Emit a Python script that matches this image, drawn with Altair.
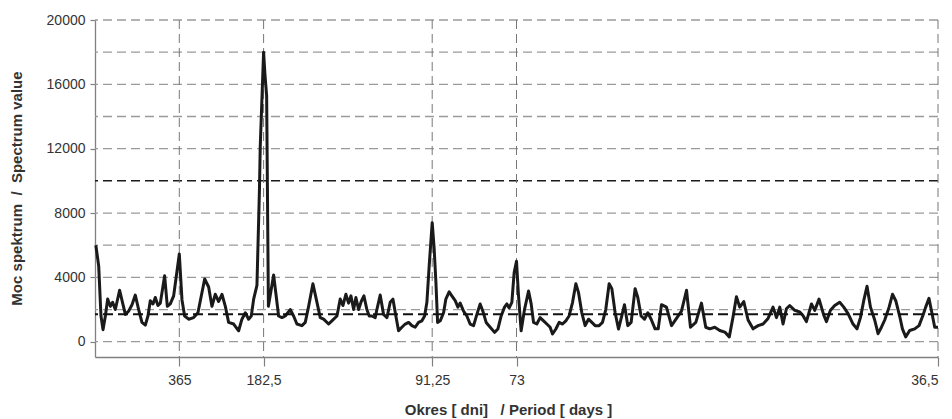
import altair as alt
import pandas as pd

# frequency in cycles per year (period = 365 / f days)
freq = [0.01, 0.044, 0.071, 0.095, 0.123, 0.150, 0.182, 0.209, 0.241, 0.292, 0.328, 0.360, 0.399, 0.439,
        0.478, 0.518, 0.557, 0.597, 0.628, 0.656, 0.688, 0.715, 0.747, 0.775, 0.826, 0.858, 0.893, 0.933,
        1.0, 1.032, 1.063, 1.111, 1.170, 1.221, 1.301, 1.348, 1.387, 1.427, 1.467, 1.506, 1.546, 1.585,
        1.645, 1.704, 1.743, 1.783, 1.822, 1.854, 1.882, 1.921, 1.951, 1.960, 2.0, 2.016, 2.036, 2.057,
        2.119, 2.178, 2.218, 2.257, 2.316, 2.356, 2.395, 2.455, 2.494, 2.534, 2.585, 2.633, 2.672, 2.712,
        2.771, 2.810, 2.870, 2.909, 2.941, 2.976, 3.008, 3.036, 3.068, 3.095, 3.127, 3.158, 3.190, 3.225,
        3.253, 3.285, 3.324, 3.344, 3.383, 3.423, 3.463, 3.502, 3.534, 3.569, 3.601, 3.640, 3.680, 3.720,
        3.759, 3.798, 3.838, 3.878, 3.910, 3.937, 3.964, 4.0, 4.023, 4.044, 4.064, 4.095, 4.135, 4.162,
        4.201, 4.233, 4.273, 4.305, 4.332, 4.372, 4.411, 4.450, 4.491, 4.530, 4.569, 4.601, 4.640, 4.688,
        4.740, 4.779, 4.818, 4.858, 4.886, 4.913, 4.945, 4.972, 5.0, 5.024, 5.055, 5.095, 5.143, 5.174,
        5.202, 5.241, 5.280, 5.321, 5.360, 5.399, 5.427, 5.467, 5.506, 5.546, 5.585, 5.624, 5.665, 5.704,
        5.736, 5.775, 5.814, 5.854, 5.894, 5.933, 5.980, 6.020, 6.059, 6.099, 6.131, 6.170, 6.210, 6.249,
        6.281, 6.320, 6.360, 6.407, 6.439, 6.478, 6.518, 6.558, 6.597, 6.644, 6.681, 6.720, 6.779, 6.839,
        6.898, 6.957, 7.017, 7.064, 7.127, 7.194, 7.245, 7.293, 7.352, 7.411, 7.471, 7.524, 7.569, 7.609,
        7.648, 7.696, 7.747, 7.806, 7.866, 7.925, 7.984, 8.043, 8.084, 8.123, 8.162, 8.202, 8.241, 8.301,
        8.360, 8.396, 8.439, 8.499, 8.538, 8.589, 8.645, 8.677, 8.724, 8.775, 8.834, 8.882, 8.933, 8.992,
        9.039, 9.080, 9.119, 9.158, 9.199, 9.249, 9.289, 9.329, 9.368, 9.420, 9.460, 9.499, 9.547, 9.578,
        9.617, 9.664, 9.724, 9.775, 9.822, 9.854, 9.893, 9.929, 9.961, 10.0]

power = [6000, 4700, 1600, 750, 1600, 2650, 2200, 2450, 2000, 3200, 2400, 1700, 1900, 2300,
         2900, 2000, 1200, 1030, 1600, 2550, 2350, 2750, 2250, 2400, 4100, 2200, 2350, 2850,
         5450, 2600, 1600, 1400, 1500, 1800, 3900, 3400, 2200, 2950, 2500, 2950, 2200, 1200,
         1100, 680, 1400, 1800, 1400, 1600, 2650, 3500, 9500, 12100, 18000, 16600, 15300, 2200,
         4150, 1600, 1500, 1600, 2000, 1600, 1100, 1000, 1200, 2200, 3600, 2450, 1500, 1400,
         1100, 1300, 1600, 2650, 2250, 2950, 2400, 2850, 2000, 2750, 2000, 2500, 2850, 2000,
         1600, 1600, 1500, 2000, 2900, 1700, 1500, 2450, 2650, 1600, 680, 900, 1100, 1200,
         1000, 900, 1200, 1300, 1600, 2450, 4700, 7400, 5800, 3700, 1200, 1300, 1800, 2650,
         3100, 2850, 2550, 2150, 2400, 1900, 1600, 1100, 1000, 1700, 2350, 1900, 1200, 900,
         580, 790, 1600, 2150, 2350, 2100, 2450, 4300, 5000, 2850, 680, 2000, 3150, 2350,
         1200, 1100, 1500, 1300, 1100, 900, 480, 790, 1200, 1100, 1300, 1600, 2450, 3600,
         3050, 1800, 1000, 1400, 1200, 1000, 1000, 1200, 2000, 3600, 3300, 1800, 790, 1600,
         2300, 1000, 1200, 3300, 2750, 1600, 1400, 1800, 1400, 800, 800, 2300, 2150, 1000,
         1450, 1900, 3200, 900, 1200, 2400, 900, 800, 900, 700, 600, 300, 1550, 2800,
         2150, 2500, 1350, 800, 1000, 1100, 1450, 2150, 1500, 2150, 1100, 2050, 2250, 1950,
         1850, 1650, 1250, 2350, 1950, 2650, 1650, 1250, 1950, 2250, 2450, 2150, 1750, 1100,
         800, 1500, 2550, 3450, 2150, 1350, 500, 900, 1350, 2150, 2950, 2550, 1550, 800,
         300, 700, 800, 1000, 1650, 2150, 2700, 1750, 900, 900]

tick_freq = [1, 2, 4, 5, 10]
tick_labels = ["365", "182,5", "91,25", "73", "36,5"]
y_ticks = [0, 4000, 8000, 12000, 16000, 20000]
grid_y = [0, 2000, 4000, 6000, 8000, 12000, 14000, 16000, 18000, 20000]
dark_grid_y = [10000]
threshold = [1700]

NB = "\u00a0"
x_title = f"Okres [ dni]{NB} {NB}/ Period [ days ]"
y_title = f"Moc spektrum{NB} /{NB} Spectrum value"

df = pd.DataFrame({"f": freq, "p": power})

label_expr = " : ".join(f"datum.value == {v} ? '{l}'" for v, l in zip(tick_freq, tick_labels)) + " : ''"

FONT = "Liberation Sans"
xscale = alt.Scale(domain=[0, 10], nice=False, zero=False)
yscale = alt.Scale(domain=[-950, 20000], nice=False, zero=False)

x_axis = alt.Axis(values=tick_freq, labelExpr=label_expr, grid=False,
                  title=x_title,
                  titleX=413, titleY=52, titleBaseline="middle",
                  tickSize=9, labelPadding=7)
y_axis = alt.Axis(values=y_ticks, format="d", grid=False,
                  title=y_title,
                  titleX=-71, titleY=168, titleBaseline="bottom",
                  tickSize=5, labelPadding=5)

hgrid = alt.Chart(pd.DataFrame({"y": grid_y})).mark_rule(
    color="#9a9a9a", strokeWidth=1.3, strokeDash=[9, 5]
).encode(y=alt.Y("y:Q", scale=yscale, axis=y_axis))

dgrid = alt.Chart(pd.DataFrame({"y": dark_grid_y})).mark_rule(
    color="#1a1a1a", strokeWidth=1.5, strokeDash=[9, 5]
).encode(y=alt.Y("y:Q", scale=yscale, axis=y_axis))

vgrid = alt.Chart(pd.DataFrame({"x": tick_freq})).mark_rule(
    color="#777777", strokeWidth=1, strokeDash=[9, 5]
).encode(x=alt.X("x:Q", scale=xscale, axis=x_axis))

line = alt.Chart(df).mark_line(color="#1a1a1a", strokeWidth=3, strokeJoin="round").encode(
    x=alt.X("f:Q", scale=xscale, axis=x_axis),
    y=alt.Y("p:Q", scale=yscale, axis=y_axis),
)

thr = alt.Chart(pd.DataFrame({"y": threshold})).mark_rule(
    color="#111111", strokeWidth=2, strokeDash=[10, 5]
).encode(y=alt.Y("y:Q", scale=yscale, axis=y_axis))

chart = alt.layer(hgrid, dgrid, vgrid, line, thr).properties(
    width=843, height=337,
    autosize=alt.AutoSizeParams(type="none"),
    padding={"left": 95, "top": 20, "right": 14, "bottom": 62},
    background="white",
).configure_view(stroke=None).configure_axis(
    labelFont=FONT, labelFontSize=14, labelColor="#333333",
    titleFont=FONT, titleFontSize=15, titleFontWeight="bold", titleColor="#333333",
    domainColor="#808080", tickColor="#808080", domainWidth=1.3, tickWidth=1.2,
)

chart.save("out.html", embed_options={"renderer": "svg", "actions": False})
